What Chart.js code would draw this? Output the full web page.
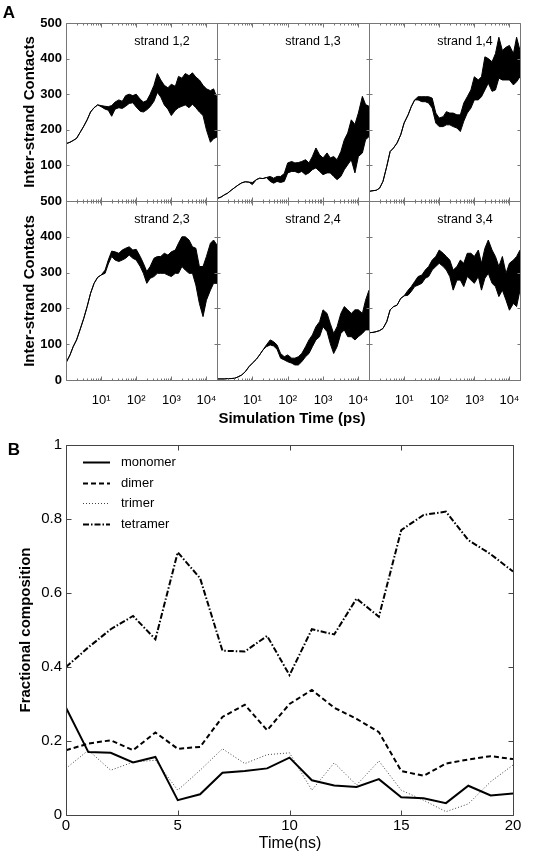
<!DOCTYPE html>
<html>
<head>
<meta charset="utf-8">
<script src="https://cdn.jsdelivr.net/npm/chart.js@4.4.0/dist/chart.umd.min.js"></script>
<style>
  html, body { margin: 0; padding: 0; background: #fff; }
  #fig { position: relative; width: 546px; height: 852px; overflow: hidden;
         font-family: "Liberation Sans", Arial, Helvetica, sans-serif; color: #000; }
  #fig canvas { position: absolute; }
  .txt { position: absolute; white-space: nowrap; line-height: 1; transform: translate(-50%, -50%); }
  .rot { transform: translate(-50%, -50%) rotate(-90deg); }
  .b { font-weight: bold; }
</style>
</head>
<body>
<div id="fig">
  <canvas id="s12"></canvas>
  <canvas id="s13"></canvas>
  <canvas id="s14"></canvas>
  <canvas id="s23"></canvas>
  <canvas id="s24"></canvas>
  <canvas id="s34"></canvas>
  <canvas id="compB"></canvas>

  <div class="txt b" style="left:9px;top:12px;font-size:17px">A</div>
  <div class="txt b rot" style="left:28px;top:112px;font-size:15px">Inter-strand Contacts</div>
  <div class="txt b rot" style="left:28px;top:291px;font-size:15px">Inter-strand Contacts</div>
  <div class="txt b" style="left:292px;top:417px;font-size:15px">Simulation Time (ps)</div>
  <div class="txt b" style="left:14px;top:449px;font-size:17px">B</div>
  <div class="txt b rot" style="left:24px;top:630px;font-size:15px">Fractional composition</div>
  <div class="txt" style="left:290px;top:843px;font-size:16px">Time(ns)</div>
</div>
<script>
// Panel A: simulation time (ps), shared by all six strand pairs
const times = [1, 1.3, 1.6, 2, 2.5, 3.2, 4, 5, 6.3, 8,
  10, 13, 16, 20, 25, 32, 40, 50, 63, 80,
  100, 130, 160, 200, 250, 320, 400, 500, 630, 800,
  1000, 1300, 1600, 2000, 2500, 3200, 4000, 5000, 6300, 8000,
  10000, 13000, 16000, 20000];

// upper / lower edge of each contact trace (noisy band)
const s12Hi = [161, 165, 170, 176, 192, 210, 228, 250, 262, 270, 268, 266, 265, 268, 278, 284, 280, 296, 300, 296,
  300, 286, 278, 282, 300, 325, 358, 340, 325, 318, 328, 322, 350, 345, 358, 352, 360, 348, 340, 325, 315, 310, 315, 290];
const s12Lo = [161, 165, 170, 176, 192, 210, 228, 250, 262, 270, 265, 258, 255, 238, 258, 262, 260, 266, 274, 276,
  264, 252, 250, 256, 265, 280, 305, 292, 270, 258, 240, 255, 262, 266, 270, 262, 272, 262, 250, 240, 200, 165, 175, 180];

const s13Hi = [7, 11, 17, 22, 30, 38, 45, 51, 54, 53, 52, 60, 64, 63, 66, 69, 64, 69, 69, 77,
  107, 111, 107, 108, 111, 116, 107, 125, 149, 130, 121, 135, 121, 125, 116, 139, 172, 191, 228, 215, 247, 294, 271, 266];
const s13Lo = [7, 11, 17, 22, 30, 38, 45, 51, 54, 53, 46, 60, 64, 63, 66, 55, 50, 55, 52, 55,
  79, 83, 83, 79, 83, 74, 79, 88, 93, 83, 74, 79, 79, 69, 60, 69, 88, 102, 116, 79, 125, 135, 172, 181];

const s14Hi = [27, 29, 30, 36, 55, 97, 139, 149, 163, 186, 219, 242, 265, 284, 293, 293, 293, 293, 289, 247,
  233, 237, 251, 247, 247, 242, 242, 275, 293, 312, 349, 340, 349, 405, 400, 391, 414, 460, 423, 432, 437, 414, 460, 423];
const s14Lo = [27, 29, 30, 36, 55, 97, 139, 149, 163, 186, 219, 242, 265, 284, 284, 279, 279, 275, 261, 219,
  209, 209, 214, 214, 209, 205, 195, 224, 247, 261, 284, 284, 293, 312, 331, 308, 312, 345, 340, 340, 340, 326, 335, 349];

const s23Hi = [48, 70, 93, 112, 140, 172, 205, 242, 270, 287, 293, 307, 335, 360, 358, 354, 363, 368, 372, 363,
  365, 345, 326, 303, 317, 340, 345, 345, 354, 349, 358, 363, 382, 400, 400, 391, 372, 368, 317, 317, 345, 382, 391, 377];
const s23Lo = [48, 70, 93, 112, 140, 172, 205, 242, 270, 287, 293, 298, 324, 345, 335, 331, 335, 340, 349, 340,
  335, 317, 298, 270, 284, 289, 298, 298, 298, 293, 289, 298, 298, 317, 307, 298, 298, 265, 214, 177, 223, 251, 270, 270];

const s24Hi = [3, 3, 3, 4, 4, 5, 9, 14, 23, 37, 47, 58, 70, 84, 98, 112, 107, 98, 74, 65,
  70, 61, 61, 65, 74, 93, 112, 126, 149, 163, 196, 186, 158, 130, 149, 186, 205, 196, 186, 196, 196, 186, 223, 251];
const s24Lo = [3, 3, 3, 4, 4, 5, 9, 14, 23, 37, 47, 58, 70, 84, 93, 98, 95, 86, 61, 56,
  51, 47, 42, 42, 51, 65, 74, 93, 112, 121, 149, 135, 102, 74, 93, 130, 140, 121, 121, 112, 121, 130, 140, 140];

const s34Hi = [132, 133, 135, 138, 144, 163, 196, 205, 209, 228, 235, 251, 261, 275, 289, 293, 307, 317, 335, 345,
  363, 354, 345, 335, 307, 317, 335, 326, 354, 354, 345, 363, 326, 368, 391, 363, 345, 317, 345, 298, 326, 335, 345, 363];
const s34Lo = [132, 133, 135, 138, 144, 163, 196, 205, 209, 228, 235, 237, 247, 261, 265, 270, 284, 289, 307, 317,
  326, 317, 307, 289, 251, 279, 279, 261, 289, 279, 270, 289, 251, 284, 298, 270, 261, 233, 251, 223, 195, 214, 205, 251];

const decadeLabels = { 10: '10\u00b9', 100: '10\u00b2', 1000: '10\u00b3', 10000: '10\u2074' };

// Panel B: fractional composition vs time (ns)
const ns = [0, 1, 2, 3, 4, 5, 6, 7, 8, 9, 10, 11, 12, 13, 14, 15, 16, 17, 18, 19, 20];
const monomer = [0.29, 0.17, 0.168, 0.142, 0.157, 0.04, 0.056, 0.114, 0.119, 0.126, 0.155,
  0.094, 0.08, 0.076, 0.097, 0.048, 0.045, 0.032, 0.079, 0.053, 0.058];
const dimer = [0.175, 0.193, 0.202, 0.175, 0.223, 0.179, 0.184, 0.265, 0.298, 0.229, 0.30,
  0.338, 0.29, 0.26, 0.224, 0.119, 0.106, 0.139, 0.15, 0.159, 0.151];
const trimer = [0.126, 0.175, 0.121, 0.143, 0.148, 0.067, 0.121, 0.179, 0.139, 0.163, 0.168,
  0.067, 0.141, 0.081, 0.146, 0.067, 0.04, 0.009, 0.03, 0.09, 0.135];
const tetramer = [0.40, 0.453, 0.502, 0.538, 0.475, 0.71, 0.64, 0.444, 0.442, 0.484, 0.378,
  0.502, 0.488, 0.585, 0.536, 0.77, 0.811, 0.82, 0.743, 0.705, 0.658];

const FONT = '"Liberation Sans", Arial, Helvetica, sans-serif';

// box frame with inward ticks, plus an optional label inside the plot
const framePlugin = {
  id: 'frame',
  afterDraw(chart, args, opts) {
    const { ctx, chartArea: a, scales: { x, y } } = chart;
    const L = Math.round(a.left) + 0.5, T = Math.round(a.top) + 0.5;
    const R = Math.round(a.right) + 0.5, B = Math.round(a.bottom) + 0.5;
    ctx.save();
    ctx.strokeStyle = opts.color;
    ctx.lineWidth = 1;
    ctx.beginPath();
    ctx.rect(L, T, R - L, B - T);
    y.ticks.forEach(t => {
      const p = Math.round(y.getPixelForValue(t.value)) + 0.5;
      ctx.moveTo(L, p); ctx.lineTo(L + opts.tick, p);
      ctx.moveTo(R, p); ctx.lineTo(R - opts.tick, p);
    });
    if (opts.logMinor) {
      for (let e = 0; e <= 4; e++) {
        for (let m = 1; m <= 9; m++) {
          const v = m * Math.pow(10, e);
          if (v > x.max) continue;
          const p = Math.round(x.getPixelForValue(v)) + 0.5;
          const len = m === 1 ? opts.tick + 1 : opts.tick - 1;
          ctx.moveTo(p, T); ctx.lineTo(p, T + len);
          ctx.moveTo(p, B); ctx.lineTo(p, B - len);
        }
      }
    } else {
      x.ticks.forEach(t => {
        const p = Math.round(x.getPixelForValue(t.value)) + 0.5;
        ctx.moveTo(p, T); ctx.lineTo(p, T + opts.tick);
        ctx.moveTo(p, B); ctx.lineTo(p, B - opts.tick);
      });
    }
    ctx.stroke();
    if (opts.label) {
      ctx.fillStyle = '#000';
      ctx.font = '12.5px ' + FONT;
      ctx.textAlign = 'center';
      ctx.textBaseline = 'middle';
      ctx.fillText(opts.label, a.left + 96, a.top + 19);
    }
    ctx.restore();
  }
};

// legend drawn inside panel B, top left
const insetLegend = {
  id: 'insetLegend',
  afterDatasetsDraw(chart) {
    const { ctx, chartArea: a } = chart;
    chart.data.datasets.forEach((ds, i) => {
      const yy = Math.round(a.top + 17 + i * 20.5) + 0.5;
      ctx.save();
      ctx.strokeStyle = ds.borderColor;
      ctx.lineWidth = ds.borderWidth;
      ctx.setLineDash(ds.borderDash || []);
      ctx.beginPath();
      ctx.moveTo(a.left + 17, yy);
      ctx.lineTo(a.left + 44, yy);
      ctx.stroke();
      ctx.setLineDash([]);
      ctx.fillStyle = '#000';
      ctx.font = '13px ' + FONT;
      ctx.textBaseline = 'middle';
      ctx.fillText(ds.label, a.left + 55, yy);
      ctx.restore();
    });
  }
};

// fixed axis sizes so every plot area lands on the same grid
function fixX(h) {
  return s => { s.height = h; s.paddingLeft = 0; s.paddingRight = 0; };
}
function fixY(w) {
  return s => { s.width = w; s.paddingTop = 0; s.paddingBottom = 0; };
}

const colLeft = [66, 217, 369];
const colW = [151, 152, 151];
const rowTop = [23, 201];
const rowH = [178, 179];

const strands = [
  { id: 's12', label: 'strand 1,2', hi: s12Hi, lo: s12Lo, c: 0, r: 0 },
  { id: 's13', label: 'strand 1,3', hi: s13Hi, lo: s13Lo, c: 1, r: 0 },
  { id: 's14', label: 'strand 1,4', hi: s14Hi, lo: s14Lo, c: 2, r: 0 },
  { id: 's23', label: 'strand 2,3', hi: s23Hi, lo: s23Lo, c: 0, r: 1 },
  { id: 's24', label: 'strand 2,4', hi: s24Hi, lo: s24Lo, c: 1, r: 1 },
  { id: 's34', label: 'strand 3,4', hi: s34Hi, lo: s34Lo, c: 2, r: 1 }
];

function makeStrandChart(cfg) {
  const { c, r } = cfg;
  const showY = c === 0, showX = r === 1;
  const padL = showY ? 66 : 10, padR = 10, padT = 10, padB = showX ? 40 : 10;
  const cv = document.getElementById(cfg.id);
  cv.width = colW[c] + padL + padR;
  cv.height = rowH[r] + padT + padB;
  cv.style.left = (colLeft[c] - padL) + 'px';
  cv.style.top = (rowTop[r] - padT) + 'px';

  new Chart(cv, {
    type: 'line',
    data: {
      datasets: [
        { data: times.map((t, i) => ({ x: t, y: cfg.hi[i] })), borderColor: '#000', borderWidth: 1,
          pointRadius: 0, fill: false },
        { data: times.map((t, i) => ({ x: t, y: cfg.lo[i] })), borderColor: '#000', borderWidth: 1,
          pointRadius: 0, fill: '-1', backgroundColor: '#000' }
      ]
    },
    options: {
      responsive: false,
      animation: false,
      layout: { padding: { left: showY ? 0 : padL, right: padR, top: padT, bottom: showX ? 0 : padB } },
      plugins: {
        legend: { display: false },
        tooltip: { enabled: false },
        frame: { color: '#777', tick: 3, logMinor: true, label: cfg.label }
      },
      scales: {
        x: {
          type: 'logarithmic', min: 1, max: 20000, display: showX,
          grid: { display: false, drawTicks: false }, border: { display: false },
          ticks: { autoSkip: false, maxRotation: 0, padding: 13, color: '#000',
                   font: { family: FONT, size: 13 }, callback: v => decadeLabels[v] || '' },
          afterFit: showX ? fixX(padB) : undefined
        },
        y: {
          min: 0, max: 500, display: showY,
          grid: { display: false, drawTicks: false }, border: { display: false },
          ticks: { stepSize: 100, padding: 4, color: '#000', font: { family: FONT, size: 13, weight: 'bold' },
                   callback: v => (r === 0 && v === 0) ? '' : v },
          afterFit: showY ? fixY(padL) : undefined
        }
      }
    },
    plugins: [framePlugin]
  });
}

strands.forEach(makeStrandChart);

// Panel B
const cvB = document.getElementById('compB');
cvB.width = 546;
cvB.height = 422;
cvB.style.left = '0px';
cvB.style.top = '430px';

const series = (vals) => ns.map((t, i) => ({ x: t, y: vals[i] }));

new Chart(cvB, {
  type: 'line',
  data: {
    datasets: [
      { label: 'monomer', data: series(monomer), borderColor: '#000', borderWidth: 2, pointRadius: 0 },
      { label: 'dimer', data: series(dimer), borderColor: '#000', borderWidth: 2, borderDash: [5, 3], pointRadius: 0 },
      { label: 'trimer', data: series(trimer), borderColor: '#444', borderWidth: 1, borderDash: [1, 2], pointRadius: 0 },
      { label: 'tetramer', data: series(tetramer), borderColor: '#000', borderWidth: 2, borderDash: [6, 2, 1.5, 2], pointRadius: 0 }
    ]
  },
  options: {
    responsive: false,
    animation: false,
    layout: { padding: { left: 0, right: 33, top: 15, bottom: 0 } },
    plugins: {
      legend: { display: false },
      tooltip: { enabled: false },
      frame: { color: '#444', tick: 5, logMinor: false, label: '' }
    },
    scales: {
      x: {
        type: 'linear', min: 0, max: 20,
        grid: { display: false, drawTicks: false }, border: { display: false },
        ticks: { stepSize: 5, padding: 2, maxRotation: 0, color: '#000', font: { family: FONT, size: 15 } },
        afterFit: fixX(37)
      },
      y: {
        min: 0, max: 1,
        grid: { display: false, drawTicks: false }, border: { display: false },
        ticks: { stepSize: 0.2, padding: 4, color: '#000', font: { family: FONT, size: 15 },
                 callback: v => String(+v.toFixed(1)) },
        afterFit: fixY(66)
      }
    }
  },
  plugins: [framePlugin, insetLegend]
});
</script>
</body>
</html>
